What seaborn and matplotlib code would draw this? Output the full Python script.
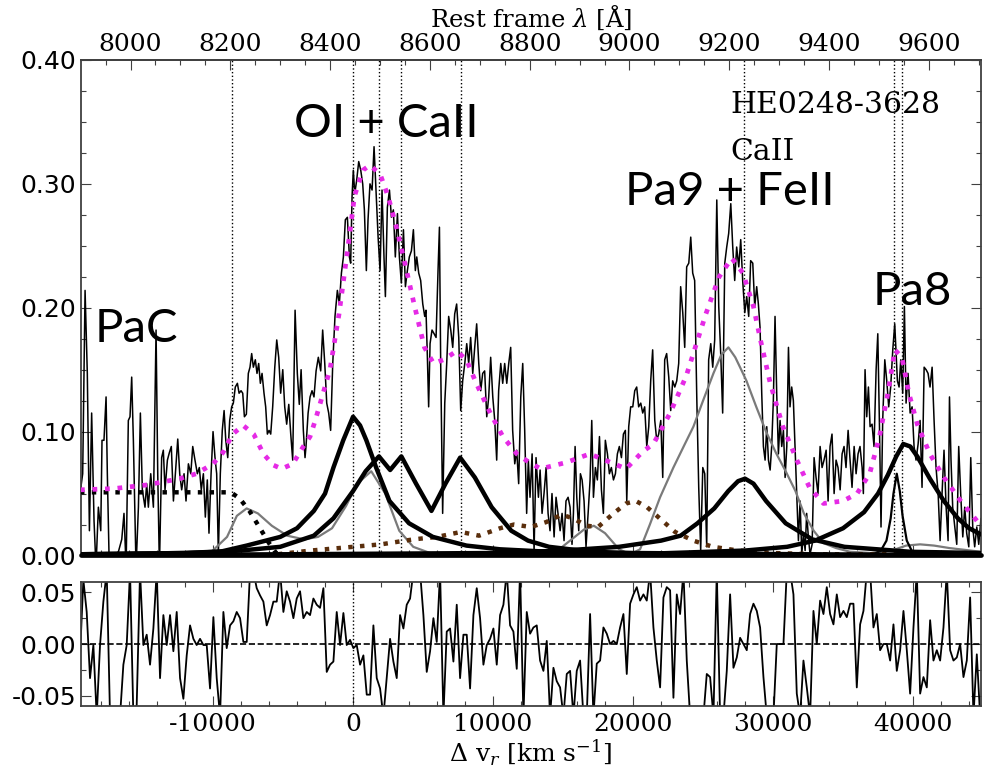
import numpy as np
import matplotlib
matplotlib.use("Agg")
import matplotlib.pyplot as plt
import seaborn as sns
from matplotlib.ticker import MultipleLocator, FixedLocator, FormatStrFormatter

# ---------------- data (velocity in km/s, flux) ----------------
spec_v = [-19500, -19310, -19140, -18980, -18830, -18670, -18500, -18360, -18190, -18020,
          -17930, -17790, -17640, -17550, -17410, -17120, -16760, -16520, -16360, -16210,
          -16050, -15930, -15810, -15690, -15500, -15330, -15190, -15050, -14860, -14740,
          -14620, -14450, -14260, -14070, -13950, -13830, -13670, -13550, -13430, -13260,
          -13120, -12980, -12830, -12690, -12520, -12380, -12240, -12070, -11930, -11760,
          -11590, -11450, -11290, -11120, -10980, -10840, -10690, -10550, -10410, -10290,
          -10140, -10000, -9860, -9740, -9620, -9480, -9340, -9210, -9090, -8950,
          -8810, -8670, -8550, -8410, -8260, -8140, -8000, -7880, -7760, -7620,
          -7480, -7360, -7240, -7120, -6980, -6860, -6740, -6620, -6500, -6360,
          -6240, -6120, -6000, -5880, -5740, -5590, -5450, -5310, -5170, -5020,
          -4880, -4740, -4590, -4450, -4310, -4140, -3980, -3840, -3710, -3550,
          -3430, -3360, -3210, -3070, -2930, -2790, -2640, -2480, -2310, -2170,
          -2020, -1880, -1740, -1600, -1450, -1290, -1120, -980, -830, -690,
          -550, -405, -260, -170, -70, 20, 120, 260, 405, 550,
          690, 810, 950, 1070, 1210, 1360, 1500, 1640, 1790, 1930,
          2070, 2210, 2310, 2450, 2600, 2740, 2880, 3020, 3170, 3310,
          3450, 3600, 3740, 3880, 4020, 4170, 4310, 4450, 4550, 4690,
          4830, 4980, 5120, 5210, 5310, 5400, 5500, 5640, 5790, 5930,
          6070, 6170, 6260, 6400, 6550, 6690, 6830, 6980, 7120, 7260,
          7400, 7550, 7690, 7830, 7980, 8120, 8260, 8400, 8550, 8690,
          8830, 8980, 9120, 9260, 9400, 9550, 9690, 9830, 9980, 10120,
          10260, 10400, 10550, 10690, 10830, 10980, 11120, 11260, 11400, 11550,
          11690, 11830, 11980, 12120, 12260, 12400, 12520, 12640, 12790, 12930,
          13070, 13240, 13360, 13500, 13640, 13790, 13930, 14070, 14210, 14360,
          14500, 14640, 14790, 14930, 15070, 15210, 15360, 15500, 15640, 15740,
          15860, 15980, 16120, 16240, 16360, 16500, 16640, 16790, 16930, 17050,
          17170, 17310, 17450, 17600, 17740, 17880, 18020, 18170, 18310, 18450,
          18600, 18740, 18880, 19020, 19170, 19310, 19450, 19550, 19690, 19830,
          19980, 20120, 20260, 20400, 20550, 20690, 20830, 20980, 21120, 21260,
          21400, 21550, 21690, 21830, 21980, 22120, 22260, 22400, 22550, 22690,
          22830, 22980, 23120, 23260, 23400, 23550, 23690, 23830, 23980, 24120,
          24260, 24400, 24550, 24690, 24830, 24980, 25120, 25260, 25400, 25550,
          25690, 25830, 25980, 26120, 26260, 26400, 26550, 26690, 26830, 26980,
          27120, 27260, 27400, 27550, 27690, 27830, 27980, 28120, 28260, 28400,
          28550, 28690, 28830, 28950, 29070, 29190, 29310, 29430, 29550, 29670,
          29790, 29900, 30020, 30140, 30260, 30380, 30500, 30620, 30740, 30860,
          30980, 31100, 31210, 31330, 31450, 31570, 31690, 31810, 31930, 32050,
          32170, 32290, 32400, 32520, 32640, 32790, 32930, 33070, 33210, 33360,
          33500, 33640, 33790, 33930, 34070, 34210, 34360, 34500, 34640, 34790,
          34930, 35070, 35210, 35360, 35500, 35640, 35790, 35930, 36070, 36210,
          36360, 36450, 36570, 36690, 36810, 36930, 37070, 37210, 37360, 37480,
          37600, 37710, 37830, 37980, 38120, 38260, 38400, 38550, 38690, 38790,
          38880, 39000, 39120, 39260, 39380, 39500, 39640, 39790, 39930, 40070,
          40210, 40360, 40500, 40640, 40790, 40930, 41070, 41210, 41360, 41500,
          41640, 41790, 41930, 42070, 42210, 42360, 42500, 42600, 42710, 42830,
          42980, 43120, 43260, 43400, 43550, 43690, 43830, 43980, 44120, 44260,
          44400, 44550, 44690, 44850]
spec_f = [0.050, 0.066, 0.214, 0.147, 0.020, 0.115, 0.028, -0.010, 0.039, 0.020,
          0.093, 0.093, 0.128, 0.066, -0.010, 0.000, 0.003, 0.013, 0.034, -0.010,
          0.109, 0.112, 0.144, 0.093, -0.010, 0.039, 0.115, 0.053, 0.039, 0.058,
          0.039, 0.066, 0.039, 0.182, 0.066, -0.010, 0.079, 0.085, 0.053, 0.077,
          0.083, 0.088, 0.044, 0.066, 0.094, 0.066, 0.053, 0.066, 0.044, 0.074,
          0.066, 0.088, 0.077, 0.066, 0.071, 0.053, 0.066, 0.031, 0.061, 0.018,
          0.066, 0.100, 0.079, 0.066, 0.001, 0.066, 0.101, 0.117, 0.093, 0.079,
          0.109, 0.120, 0.123, 0.136, 0.139, 0.131, 0.133, 0.131, 0.112, 0.114,
          0.147, 0.152, 0.163, 0.152, 0.158, 0.147, 0.155, 0.139, 0.147, 0.131,
          0.120, 0.098, 0.101, 0.098, 0.120, 0.152, 0.174, 0.160, 0.131, 0.150,
          0.120, 0.106, 0.122, 0.098, 0.077, 0.198, 0.147, 0.122, 0.150, 0.101,
          0.079, 0.088, 0.115, 0.128, 0.133, 0.128, 0.149, 0.160, 0.149, 0.182,
          0.155, 0.123, 0.115, 0.101, 0.155, 0.193, 0.214, 0.203, 0.228, 0.241,
          0.271, 0.273, 0.241, 0.236, 0.290, 0.311, 0.292, 0.303, 0.318, 0.311,
          0.300, 0.279, 0.230, 0.271, 0.300, 0.295, 0.330, 0.295, 0.257, 0.230,
          0.295, 0.241, 0.209, 0.281, 0.295, 0.273, 0.279, 0.241, 0.276, 0.241,
          0.220, 0.263, 0.217, 0.230, 0.241, 0.246, 0.263, 0.230, 0.241, 0.228,
          0.222, 0.203, 0.193, 0.198, 0.160, 0.120, 0.171, 0.182, 0.179, 0.176,
          0.230, 0.265, 0.155, 0.034, 0.123, 0.155, 0.193, 0.182, 0.168, 0.195,
          0.203, 0.176, 0.117, 0.141, 0.155, 0.171, 0.155, 0.176, 0.147, 0.168,
          0.187, 0.155, 0.133, 0.147, 0.149, 0.112, 0.128, 0.160, 0.128, 0.109,
          0.077, 0.133, 0.155, 0.139, 0.155, 0.139, 0.155, 0.168, 0.101, 0.074,
          0.085, 0.058, 0.128, 0.155, 0.101, 0.034, 0.077, 0.047, 0.082, 0.004,
          0.079, 0.047, 0.069, 0.034, 0.050, 0.071, 0.034, 0.020, 0.050, 0.015,
          0.047, 0.034, 0.020, 0.034, 0.012, 0.044, 0.047, 0.039, 0.009, 0.034,
          0.088, 0.047, 0.020, 0.066, 0.061, 0.044, 0.007, 0.034, 0.061, 0.109,
          0.047, 0.071, 0.061, 0.096, 0.053, 0.034, 0.093, 0.082, 0.066, 0.071,
          0.061, 0.066, 0.082, 0.088, 0.079, 0.098, 0.101, 0.044, 0.104, 0.120,
          0.120, 0.133, 0.136, 0.120, 0.123, 0.115, 0.120, 0.088, 0.104, 0.141,
          0.166, 0.109, 0.093, 0.098, 0.109, 0.063, 0.158, 0.163, 0.144, 0.117,
          0.141, 0.136, 0.141, 0.155, 0.217, 0.196, 0.168, 0.233, 0.236, 0.257,
          0.228, 0.222, 0.128, 0.055, 0.004, 0.071, 0.066, 0.007, 0.158, 0.171,
          0.152, 0.174, 0.287, 0.201, 0.163, 0.115, 0.236, 0.249, 0.260, 0.284,
          0.249, 0.222, 0.249, 0.233, 0.255, 0.222, 0.196, 0.209, 0.193, 0.238,
          0.236, 0.201, 0.217, 0.203, 0.184, 0.131, 0.088, 0.077, 0.104, 0.077,
          0.069, 0.088, 0.125, 0.193, 0.131, 0.082, 0.109, 0.088, 0.101, 0.063,
          0.088, 0.168, 0.120, 0.136, 0.125, 0.088, 0.050, 0.012, 0.044, 0.001,
          0.018, 0.004, 0.034, 0.015, 0.001, 0.009, 0.079, 0.063, 0.050, 0.088,
          0.071, 0.077, 0.085, 0.044, 0.088, 0.098, 0.050, 0.077, 0.071, 0.053,
          0.082, 0.088, 0.071, 0.101, 0.077, 0.055, 0.088, 0.066, 0.082, 0.088,
          0.071, 0.050, 0.150, 0.112, 0.136, 0.104, 0.106, 0.088, 0.150, 0.179,
          0.104, 0.023, 0.109, 0.158, 0.141, 0.120, 0.136, 0.166, 0.187, 0.163,
          0.141, 0.136, 0.158, 0.131, 0.201, 0.123, 0.147, 0.115, 0.120, 0.088,
          0.077, 0.090, 0.109, 0.055, 0.152, 0.150, 0.147, 0.136, 0.152, 0.109,
          0.071, 0.050, 0.012, 0.050, 0.085, 0.039, 0.012, 0.128, 0.077, 0.039,
          0.023, 0.009, 0.088, 0.050, 0.015, 0.039, 0.018, 0.007, 0.079, 0.023,
          0.007, 0.023, 0.009, 0.030]

# total fit (magenta dotted)
fit_v = [-19500, -17100, -14700, -12400, -11200, -10000, -9300, -8600, -7850, -7100,
         -6400, -5700, -5100, -4300, -3550, -3070, -2700, -1650, -1000, -350,
         100, 700, 1200, 1930, 2500, 3100, 3700, 4400, 5100, 5750,
         6450, 7400, 8100, 8800, 9800, 10700, 11700, 12600, 13400, 15200,
         16900, 18000, 19500, 20700, 21450, 22650, 23800, 25200, 26150, 27050,
         27850, 28600, 29100, 29800, 30700, 31700, 32600, 33600, 35000, 36000,
         36900, 37600, 38200, 38700, 39200, 39700, 40300, 41200, 42200, 43400, 44850]
fit_f = [0.053, 0.054, 0.057, 0.062, 0.066, 0.074, 0.083, 0.098, 0.105, 0.098,
         0.082, 0.073, 0.070, 0.074, 0.088, 0.096, 0.109, 0.150, 0.195, 0.250,
         0.290, 0.311, 0.315, 0.308, 0.290, 0.265, 0.236, 0.201, 0.168, 0.155,
         0.158, 0.165, 0.158, 0.139, 0.115, 0.096, 0.082, 0.075, 0.070, 0.075,
         0.082, 0.077, 0.070, 0.084, 0.090, 0.115, 0.145, 0.195, 0.225, 0.240,
         0.228, 0.201, 0.174, 0.139, 0.104, 0.077, 0.055, 0.042, 0.044, 0.050,
         0.066, 0.096, 0.131, 0.166, 0.160, 0.131, 0.106, 0.082, 0.063, 0.044, 0.024]

# Paschen continuum (black dotted)
pac_v = [-19500, -15000, -12000, -9000, -8600, -8100, -7400, -6700, -6000, -5500, -5000]
pac_f = [0.051, 0.051, 0.051, 0.051, 0.050, 0.046, 0.036, 0.023, 0.010, 0.002, 0.0]

# broad gray component
gray_v = [-19500, -12000, -10200, -9000, -8300, -7600, -6800, -5800, -4700, -3500,
          -2500, -1500, -500, 300, 1300, 2300, 3300, 4300, 5500, 7000,
          12000, 14500, 15500, 16500, 17200, 18000, 19000, 19800, 20500, 21200,
          21930, 22880, 23700, 24310, 25000, 25740, 26300, 26810, 27300, 27640,
          28100, 28800, 29500, 30200, 30900, 31600, 32200, 32900, 33600, 34500,
          35500, 37000, 38500, 39500, 40500, 41500, 42600, 44850]
gray_f = [0.0, 0.0, 0.002, 0.015, 0.032, 0.038, 0.034, 0.024, 0.016, 0.013,
          0.015, 0.022, 0.040, 0.058, 0.068, 0.050, 0.020, 0.007, 0.002, 0.0,
          0.0, 0.003, 0.012, 0.021, 0.024, 0.018, 0.005, 0.001, 0.005, 0.025,
          0.047, 0.071, 0.090, 0.104, 0.125, 0.147, 0.162, 0.168, 0.160, 0.152,
          0.141, 0.120, 0.100, 0.083, 0.068, 0.052, 0.034, 0.020, 0.010, 0.006,
          0.003, 0.002, 0.004, 0.008, 0.009, 0.008, 0.006, 0.003]

# OI 8446 (thick black)
oi_v = [-19500, -12000, -9500, -7600, -5200, -4000, -2800, -2000, -1400, -700,
        0, 500, 950, 1650, 2600, 4000, 5700, 8100, 10500, 14000, 20000, 44850]
oi_f = [0.001, 0.002, 0.003, 0.008, 0.015, 0.022, 0.036, 0.050, 0.071, 0.093,
        0.112, 0.105, 0.093, 0.071, 0.044, 0.026, 0.015, 0.008, 0.005, 0.003, 0.001, 0.0]

# CaII triplet (thick black)
ca_v = [-19500, -12000, -8000, -5200, -2800, -1400, 0, 900, 1850, 2650,
        3450, 4500, 5600, 6600, 7650, 8700, 9900, 11300, 12500, 14000,
        17000, 20000, 44850]
ca_f = [0.001, 0.002, 0.004, 0.007, 0.016, 0.030, 0.052, 0.068, 0.080, 0.069,
        0.080, 0.058, 0.036, 0.058, 0.079, 0.063, 0.039, 0.020, 0.012, 0.007,
        0.003, 0.002, 0.0]

# Pa9 / CaII (thick black)
pa9_v = [-19500, 10000, 15000, 19000, 22000, 23400, 24600, 25800, 26800, 27500,
         28000, 28600, 29500, 30900, 32800, 35100, 39800, 44850]
pa9_f = [0.0, 0.002, 0.004, 0.007, 0.012, 0.016, 0.026, 0.038, 0.052, 0.060,
         0.062, 0.058, 0.044, 0.026, 0.013, 0.007, 0.003, 0.002]

# Pa8 broad (thick black)
pa8_v = [-19500, 20000, 28000, 31000, 33000, 35000, 36500, 37500, 38200, 38800,
         39300, 39800, 40300, 41200, 42200, 43200, 44000, 44850]
pa8_f = [0.0, 0.001, 0.004, 0.007, 0.012, 0.022, 0.035, 0.050, 0.065, 0.080,
         0.090, 0.088, 0.080, 0.062, 0.044, 0.030, 0.022, 0.017]

# Pa8 narrow (thin black)
pa8n_v = [37000, 37700, 38100, 38400, 38600, 38836, 39050, 39250, 39550, 39900, 40500]
pa8n_f = [0.0, 0.004, 0.012, 0.030, 0.050, 0.066, 0.052, 0.032, 0.012, 0.004, 0.0]

# FeII (brown dotted)
fe_v = [-6200, -3000, 0, 2000, 4300, 6000, 7700, 9000, 10500, 11500,
        12700, 13800, 14900, 15700, 16700, 17500, 18500, 19500, 20200, 21000,
        21900, 23000, 24300, 25700, 27500, 30000, 33000, 44850]
fe_f = [0.0, 0.004, 0.007, 0.009, 0.013, 0.015, 0.019, 0.016, 0.022, 0.025,
        0.023, 0.027, 0.033, 0.030, 0.024, 0.023, 0.033, 0.042, 0.044, 0.039,
        0.030, 0.019, 0.012, 0.007, 0.004, 0.002, 0.001, 0.001]

# residuals, read at a regular step across the panel
res_vals = [-0.011, 0.062, 0.031, -0.033, -0.001, -0.07, -0.001, 0.041, 0.07, -0.07,
            -0.07, -0.07, -0.07, -0.020, -0.001, 0.07, -0.07, -0.059, 0.07, -0.001,
            0.009, -0.020, 0.015, 0.07, -0.033, 0.028, -0.001, 0.028, -0.007, 0.031,
            -0.033, -0.053, -0.011, 0.018, 0.005, -0.001, 0.005, -0.001, -0.001, -0.043,
            0.026, -0.033, -0.07, 0.031, -0.004, 0.018, 0.022, 0.031, 0.025, 0.002,
            0.002, 0.07, 0.07, 0.054, 0.047, 0.041, 0.018, 0.028, 0.041, 0.041,
            0.07, 0.031, 0.051, 0.041, 0.025, 0.044, 0.051, 0.025, 0.031, 0.028,
            0.044, 0.038, 0.035, 0.054, -0.027, -0.020, -0.017, 0.031, -0.001, 0.030,
            -0.001, 0.004, -0.004, -0.001, -0.020, -0.011, -0.049, -0.049, 0.018, -0.033,
            -0.043, -0.07, -0.033, 0.005, -0.017, -0.033, 0.028, 0.015, 0.038, 0.044,
            0.07, 0.07, 0.07, 0.028, -0.027, -0.007, 0.025, 0.002, 0.07, -0.07,
            0.012, 0.015, -0.017, 0.038, -0.033, 0.009, 0.009, -0.043, 0.028, 0.054,
            0.025, -0.020, -0.001, 0.005, 0.015, -0.020, 0.028, 0.038, 0.07, 0.018,
            0.012, -0.024, 0.07, -0.07, 0.031,
            0.010, 0.016, 0.018, -0.016, -0.026, 0.003, -0.07, -0.023, -0.036, -0.042,
            -0.07, -0.029, -0.026, -0.07, -0.026, -0.016, -0.07, -0.07, 0.029, -0.07,
            -0.019, -0.016, 0.016, 0.010, 0.0, 0.003, 0.0, 0.016, 0.029, -0.029,
            0.039, 0.048, 0.055, 0.042, 0.048, 0.042, 0.07, 0.016, -0.016, -0.042,
            0.045, 0.055, 0.052, -0.052, 0.048, 0.029, 0.07, -0.016, -0.07, -0.07,
            -0.07, -0.07, -0.07, -0.029, -0.032, -0.07, 0.07, -0.07, -0.07, -0.026,
            0.048, -0.023, -0.013, 0.006, 0.0, -0.006, 0.029, 0.039, 0.032, 0.016,
            -0.032, -0.07, -0.07, -0.07, 0.0, 0.0, 0.0, 0.07, 0.07, 0.048,
            -0.048, -0.07, -0.016, -0.042, -0.07, 0.032, 0.0, 0.042, 0.029, 0.055,
            0.029, 0.019, 0.048, 0.026, 0.032, 0.026, 0.039, 0.039, -0.042, 0.019,
            0.032, 0.07, 0.07, 0.016, 0.029, -0.006, 0.0, 0.0, -0.016, 0.019,
            -0.026, -0.006, 0.032, -0.006, -0.048, 0.016, 0.07, -0.048, -0.032, -0.042,
            0.023, -0.016, -0.006, -0.016, 0.016, 0.07, -0.006, -0.016, -0.013, 0.0,
            -0.032, -0.016, 0.045, -0.07, -0.010, -0.07]
res_v_first, res_v_last = -19500, 44790

# reference line wavelengths (Angstrom)
line_lams = [8204, 8446, 8498, 8542, 8662, 9229, 9531, 9546]
lam0 = 8446.0
c_kms = 301000.0

top_ticks = [8000, 8200, 8400, 8600, 8800, 9000, 9200, 9400, 9600]
xlim = (-19430, 44850)

# ---------------- style ----------------
sns.set_theme(style="ticks")
plt.rcParams.update({
    "font.family": ["DejaVu Serif"],
    "mathtext.fontset": "dejavuserif",
    "axes.unicode_minus": False,
    "text.color": "black",
    "axes.labelcolor": "black",
    "xtick.direction": "in",
    "ytick.direction": "in",
    "xtick.major.size": 7.5,
    "ytick.major.size": 7.5,
    "xtick.minor.size": 3.8,
    "ytick.minor.size": 3.8,
    "xtick.major.width": 0.8,
    "ytick.major.width": 0.8,
    "xtick.minor.width": 0.8,
    "ytick.minor.width": 0.8,
    "axes.edgecolor": "#404040",
    "axes.linewidth": 1.3,
    "xtick.color": "#404040",
    "ytick.color": "#404040",
    "xtick.labelcolor": "black",
    "ytick.labelcolor": "black",
})

fig = plt.figure(figsize=(9.94, 7.68), dpi=100)
ax1 = fig.add_axes([0.0815, 0.2767, 0.9054, 0.6452])
ax2 = fig.add_axes([0.0815, 0.0807, 0.9054, 0.1615])


def v2l(v):
    return lam0 * (1.0 + np.asarray(v) / c_kms)


def l2v(l):
    return c_kms * (np.asarray(l) / lam0 - 1.0)


def draw(ax, x, y, **kw):
    sns.lineplot(x=x, y=y, ax=ax, estimator=None, sort=False, legend=False, **kw)


# vertical reference lines
for lam in line_lams:
    ax1.axvline(float(l2v(lam)), color="black", lw=1.0, ls=":", zorder=1)

draw(ax1, spec_v, spec_f, color="black", lw=1.1, zorder=2)
draw(ax1, gray_v, gray_f, color="#7a7a7a", lw=1.6, zorder=3)
draw(ax1, fe_v, fe_f, color="#5a2e0c", lw=3.2, ls=":", zorder=3)
draw(ax1, pac_v, pac_f, color="black", lw=3.2, ls=":", zorder=4)
draw(ax1, oi_v, oi_f, color="black", lw=3.2, zorder=4)
draw(ax1, ca_v, ca_f, color="black", lw=3.2, zorder=4)
draw(ax1, pa9_v, pa9_f, color="black", lw=3.2, zorder=4)
draw(ax1, pa8_v, pa8_f, color="black", lw=3.2, zorder=4)
draw(ax1, pa8n_v, pa8n_f, color="black", lw=1.6, zorder=4)
draw(ax1, fit_v, fit_f, color="#e52ae5", lw=3.4, ls=":", zorder=6)
ax1.axhline(0, color="black", lw=3.4, zorder=5, clip_on=False)

ax1.set_xlim(*xlim)
ax1.set_ylim(0, 0.40)
ax1.set_xlabel("")
ax1.set_ylabel("")
ax1.yaxis.set_major_locator(FixedLocator([0.0, 0.1, 0.2, 0.3, 0.4]))
ax1.yaxis.set_major_formatter(FormatStrFormatter("%.2f"))
ax1.yaxis.set_minor_locator(MultipleLocator(0.025))
ax1.xaxis.set_major_locator(MultipleLocator(10000))
ax1.xaxis.set_minor_locator(MultipleLocator(2000))
ax1.tick_params(axis="x", which="both", labelbottom=False, top=False, bottom=True)
ax1.tick_params(axis="y", which="both", left=True, right=True, labelsize=18,
                labelfontfamily="DejaVu Sans")

sec = ax1.secondary_xaxis("top", functions=(v2l, l2v))
sec.xaxis.set_major_locator(FixedLocator(top_ticks))
sec.xaxis.set_minor_locator(MultipleLocator(50))
sec.tick_params(axis="x", which="both", direction="in", labelsize=18, pad=3)
sec.set_xlabel(r"Rest frame $\lambda$ [Å]", fontsize=17.5, family="DejaVu Serif",
               labelpad=4)

# annotations
ax1.text(0.339, 0.8446, "OI + CaII", transform=ax1.transAxes, ha="center",
         va="baseline", fontsize=34, family="Lato", zorder=7)
ax1.text(0.0156, 0.431, "PaC", transform=ax1.transAxes, ha="left",
         va="baseline", fontsize=34, family="Lato", zorder=7)
ax1.text(0.604, 0.7074, "Pa9 + FeII", transform=ax1.transAxes, ha="left",
         va="baseline", fontsize=34, family="Lato", zorder=7)
ax1.text(0.880, 0.5056, "Pa8", transform=ax1.transAxes, ha="left",
         va="baseline", fontsize=34, family="Lato", zorder=7)
ax1.text(0.721, 0.893, "HE0248-3628", transform=ax1.transAxes, ha="left",
         va="baseline", fontsize=21.5, family="DejaVu Serif", zorder=7)
ax1.text(0.721, 0.798, "CaII", transform=ax1.transAxes, ha="left",
         va="baseline", fontsize=21.5, family="DejaVu Serif", zorder=7)

# residual panel
res_v = np.linspace(res_v_first, res_v_last, len(res_vals))
ax2.axvline(0, color="black", lw=1.0, ls=":", zorder=1)
ax2.axhline(0, color="black", lw=1.2, ls="--", zorder=1)
draw(ax2, res_v, res_vals, color="black", lw=1.3, zorder=2)
ax2.set_xlim(*xlim)
ax2.set_ylim(-0.06, 0.06)
ax2.set_ylabel("")
ax2.yaxis.set_major_locator(FixedLocator([-0.05, 0.0, 0.05]))
ax2.yaxis.set_major_formatter(FormatStrFormatter("%.2f"))
ax2.yaxis.set_minor_locator(MultipleLocator(0.025))
ax2.xaxis.set_major_locator(MultipleLocator(10000))
ax2.xaxis.set_minor_locator(MultipleLocator(2000))
ax2.tick_params(axis="x", which="both", top=True, bottom=True, labelsize=18, pad=5)
ax2.tick_params(axis="y", which="both", left=True, right=True, labelsize=18,
                labelfontfamily="DejaVu Sans")
ax2.set_xlabel(r"$\Delta$ v$_r$ [km s$^{-1}$]", fontsize=18, family="DejaVu Serif",
               labelpad=1)

fig.savefig("out.png", dpi=100)
